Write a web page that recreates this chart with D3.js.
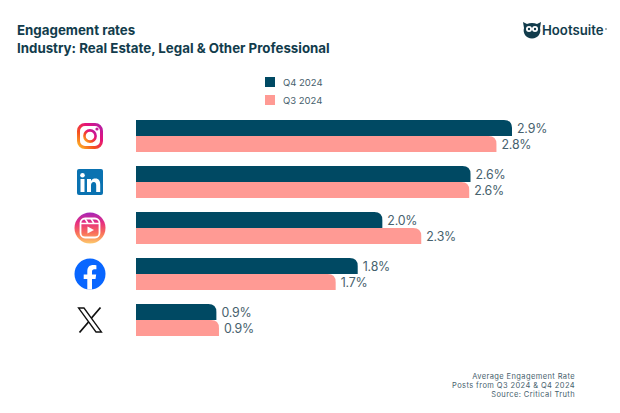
<!DOCTYPE html>
<html>
<head>
<meta charset="utf-8">
<script src="https://cdn.jsdelivr.net/npm/d3@7"></script>
<style>
html, body { margin: 0; padding: 0; background: #fff; }
svg { display: block; }
text { font-family: Inter, "Open Sans", sans-serif; }
</style>
</head>
<body>
<svg width="620" height="413"></svg>
<script>
var platforms = ["Instagram", "LinkedIn", "Instagram Reels", "Facebook", "X"];
var seriesNames = ["Q4 2024", "Q3 2024"];

// bar lengths as drawn in the picture, which do not quite follow the printed labels
var q4Values = [2.9, 2.58, 1.9, 1.71, 0.62];
var q3Values = [2.78, 2.57, 2.2, 1.54, 0.64];
var q4Labels = ["2.9%", "2.6%", "2.0%", "1.8%", "0.9%"];
var q3Labels = ["2.8%", "2.6%", "2.3%", "1.7%", "0.9%"];

var titleLines = ["Engagement rates", "Industry: Real Estate, Legal & Other Professional"];
var noteLines = ["Average Engagement Rate", "Posts from Q3 2024 & Q4 2024", "Source: Critical Truth"];

var colors = ["#004963", "#ff9a94"];
var ink = "#123c4c", grey = "#47616d";

var svg = d3.select("svg");
var defs = svg.append("defs");

function gradient(id, stops, x1, y1, x2, y2) {
    var g = defs.append("linearGradient").attr("id", id)
        .attr("x1", x1).attr("y1", y1).attr("x2", x2).attr("y2", y2);
    stops.forEach(function(s, i) {
        g.append("stop").attr("offset", i / (stops.length - 1)).attr("stop-color", s);
    });
}
gradient("igGrad", ["#fdb827", "#f5501f", "#e5127a", "#b01fa8"], 0, 1, 1, 0);
gradient("reelsGrad", ["#a526b8", "#e8307f", "#f9705a", "#fdc96b"], 0, 0, 0, 1);

var x = d3.scaleLinear().domain([0, 2.9]).range([136, 512]);
var y = d3.scaleBand().domain(platforms).range([120, 350]).paddingInner(0).paddingOuter(0);
var inner = d3.scaleBand().domain(seriesNames).range([0, 32]);

// titles
svg.selectAll(".title").data(titleLines).enter().append("text")
    .attr("class", "title")
    .attr("x", 17)
    .attr("y", function(d, i) { return 35 + i * 17.5; })
    .attr("fill", ink)
    .attr("font-size", 13.3)
    .attr("font-weight", 700)
    .text(function(d) { return d; });

// legend
var legend = svg.selectAll(".legend").data(seriesNames).enter().append("g")
    .attr("class", "legend")
    .attr("transform", function(d, i) { return "translate(265," + (77 + i * 18) + ")"; });
legend.append("rect").attr("width", 10).attr("height", 10)
    .attr("fill", function(d, i) { return colors[i]; });
legend.append("text").attr("x", 18).attr("y", 8.8)
    .attr("fill", grey).attr("font-size", 9.5)
    .text(function(d) { return d; });

// top right corner rounded, the rest square
function barPath(x1, top, h) {
    var r = Math.min(8, x1 - x(0));
    return "M" + x(0) + "," + top + "H" + (x1 - r) +
        "Q" + x1 + "," + top + " " + x1 + "," + (top + r) +
        "V" + (top + h) + "H" + x(0) + "Z";
}

[q4Values, q3Values].forEach(function(values, s) {
    var labels = s == 0 ? q4Labels : q3Labels;
    var top = function(i) { return y(platforms[i]) + inner(seriesNames[s]); };
    svg.append("g").selectAll("path").data(values).enter().append("path")
        .attr("d", function(d, i) { return barPath(x(d), top(i), inner.bandwidth()); })
        .attr("fill", colors[s]);
    svg.append("g").selectAll("text").data(values).enter().append("text")
        .attr("x", function(d) { return x(d) + 5; })
        .attr("y", function(d, i) { return top(i) + 13; })
        .attr("fill", grey)
        .attr("font-size", 12.4)
        .attr("letter-spacing", -0.2)
        .text(function(d, i) { return labels[i]; });
});

// platform icons, centred on each row
var iconX = 90;
var icons = svg.selectAll(".icon").data(platforms).enter().append("g")
    .attr("class", "icon")
    .attr("transform", function(d) { return "translate(" + iconX + "," + (y(d) + 16) + ")"; });

icons.each(function(d) {
    var g = d3.select(this);
    if (d == "Instagram") {
        g.append("rect").attr("x", -11.5).attr("y", -11.5).attr("width", 23).attr("height", 23).attr("rx", 6.5)
            .attr("fill", "none").attr("stroke", "url(#igGrad)").attr("stroke-width", 3);
        g.append("circle").attr("r", 5.6).attr("fill", "none").attr("stroke", "url(#igGrad)").attr("stroke-width", 2.6);
        g.append("circle").attr("cx", 7).attr("cy", -7).attr("r", 1.6).attr("fill", "#c81f98");
    } else if (d == "LinkedIn") {
        g.append("rect").attr("x", -13).attr("y", -13).attr("width", 26).attr("height", 26).attr("rx", 2)
            .attr("fill", "#0a72b1");
        g.append("circle").attr("cx", -7.5).attr("cy", -6.8).attr("r", 2.3).attr("fill", "#fff");
        g.append("rect").attr("x", -9.5).attr("y", -3).attr("width", 4).attr("height", 13).attr("fill", "#fff");
        g.append("path").attr("fill", "#fff")
            .attr("d", "M-3,-3H1V-1C2,-2.8 3.6,-3.4 5.4,-3.4C9,-3.4 10.2,-1 10.2,2.4V10H6.2V3.2C6.2,1.4 5.6,0 3.8,0C2,0 1,1.3 1,3.2V10H-3Z");
    } else if (d == "Instagram Reels") {
        g.append("circle").attr("r", 15.5).attr("fill", "url(#reelsGrad)");
        g.append("rect").attr("x", -9.5).attr("y", -9.5).attr("width", 19).attr("height", 19).attr("rx", 4.5)
            .attr("fill", "none").attr("stroke", "#fff").attr("stroke-width", 1.8);
        g.append("path").attr("fill", "none").attr("stroke", "#fff").attr("stroke-width", 1.5)
            .attr("d", "M-9.5,-4.5H9.5M-5,-9.5L-2,-4.5M1,-9.5L4,-4.5");
        g.append("path").attr("fill", "#fff").attr("d", "M-2.5,-1.5L4,2L-2.5,5.5Z");
    } else if (d == "Facebook") {
        g.append("circle").attr("r", 15.5).attr("fill", "#0866ff");
        g.append("path").attr("fill", "#fff")
            .attr("d", "M-2.7,15.4V5H-6.3V0.5H-2.7V-2.5C-2.7,-7 -0.4,-9 3.4,-9C4.6,-9 5.8,-8.8 6.4,-8.7V-4.8H4.4C2.6,-4.8 2,-3.8 2,-2.2V0.5H6.2L5.5,5H2V15.4Z");
    } else {
        g.append("path").attr("fill", "none").attr("stroke", "#111").attr("stroke-width", 1.3)
            .attr("d", "M-11.5,-12H-6L11.5,12H6Z");
        g.append("path").attr("fill", "none").attr("stroke", "#111").attr("stroke-width", 1.8)
            .attr("d", "M10.5,-12.5L1.5,-2M-1.5,2L-10.5,12.5");
    }
});

// logo
var logo = svg.append("g").attr("transform", "translate(532,30)");
logo.append("path").attr("fill", ink)
    .attr("d", "M-9,-8L-5,-6C-2,-7.5 2,-7.5 5,-6L9,-8L8,-2C9.5,3 6,8.5 0,8.5C-6,8.5 -9.5,3 -8,-2Z");
logo.append("circle").attr("cx", -3).attr("cy", -1).attr("r", 3).attr("fill", "#fff");
logo.append("circle").attr("cx", 3).attr("cy", -1).attr("r", 3).attr("fill", "#fff");
logo.append("circle").attr("cx", -3).attr("cy", -1).attr("r", 1.2).attr("fill", ink);
logo.append("circle").attr("cx", 3).attr("cy", -1).attr("r", 1.2).attr("fill", ink);
svg.append("text").attr("x", 542).attr("y", 35)
    .attr("fill", ink).attr("font-size", 13.2).attr("font-weight", 600)
    .text("Hootsuite");
svg.append("circle").attr("cx", 606).attr("cy", 29).attr("r", 1).attr("fill", "#8a9aa2");

// source note
svg.selectAll(".note").data(noteLines).enter().append("text")
    .attr("class", "note")
    .attr("x", 575)
    .attr("y", function(d, i) { return 378.5 + i * 9; })
    .attr("text-anchor", "end")
    .attr("fill", grey)
    .attr("font-size", 7.5)
    .attr("letter-spacing", 0.4)
    .text(function(d) { return d; });
</script>
</body>
</html>
